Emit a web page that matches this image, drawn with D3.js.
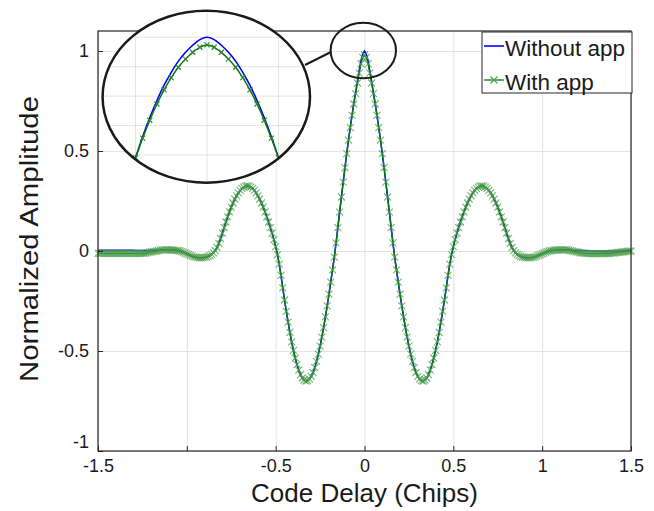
<!DOCTYPE html>
<html><head><meta charset="utf-8">
<script src="https://cdn.jsdelivr.net/npm/d3@7"></script>
<style>
body{margin:0;background:#fff}
svg{display:block}
text{font-family:"Liberation Sans",Arial,Helvetica,sans-serif}
</style>
</head><body>
<svg id="c" width="654" height="511"></svg>
<script>
// ---------- data ----------
const delay = [
-1.5,-1.49,-1.48,-1.47,-1.46,-1.45,-1.44,-1.43,-1.42,-1.41,
-1.4,-1.39,-1.38,-1.37,-1.36,-1.35,-1.34,-1.33,-1.32,-1.31,
-1.3,-1.29,-1.28,-1.27,-1.26,-1.25,-1.24,-1.23,-1.22,-1.21,
-1.2,-1.19,-1.18,-1.17,-1.16,-1.15,-1.14,-1.13,-1.12,-1.11,
-1.1,-1.09,-1.08,-1.07,-1.06,-1.05,-1.04,-1.03,-1.02,-1.01,
-1.0,-0.99,-0.98,-0.97,-0.96,-0.95,-0.94,-0.93,-0.92,-0.91,
-0.9,-0.89,-0.88,-0.87,-0.86,-0.85,-0.84,-0.83,-0.82,-0.81,
-0.8,-0.79,-0.78,-0.77,-0.76,-0.75,-0.74,-0.73,-0.72,-0.71,
-0.7,-0.69,-0.68,-0.67,-0.66,-0.65,-0.64,-0.63,-0.62,-0.61,
-0.6,-0.59,-0.58,-0.57,-0.56,-0.55,-0.54,-0.53,-0.52,-0.51,
-0.5,-0.49,-0.48,-0.47,-0.46,-0.45,-0.44,-0.43,-0.42,-0.41,
-0.4,-0.39,-0.38,-0.37,-0.36,-0.35,-0.34,-0.33,-0.32,-0.31,
-0.3,-0.29,-0.28,-0.27,-0.26,-0.25,-0.24,-0.23,-0.22,-0.21,
-0.2,-0.19,-0.18,-0.17,-0.16,-0.15,-0.14,-0.13,-0.12,-0.11,
-0.1,-0.09,-0.08,-0.07,-0.06,-0.05,-0.04,-0.03,-0.02,-0.01,
0,0.01,0.02,0.03,0.04,0.05,0.06,0.07,0.08,0.09,
0.1,0.11,0.12,0.13,0.14,0.15,0.16,0.17,0.18,0.19,
0.2,0.21,0.22,0.23,0.24,0.25,0.26,0.27,0.28,0.29,
0.3,0.31,0.32,0.33,0.34,0.35,0.36,0.37,0.38,0.39,
0.4,0.41,0.42,0.43,0.44,0.45,0.46,0.47,0.48,0.49,
0.5,0.51,0.52,0.53,0.54,0.55,0.56,0.57,0.58,0.59,
0.6,0.61,0.62,0.63,0.64,0.65,0.66,0.67,0.68,0.69,
0.7,0.71,0.72,0.73,0.74,0.75,0.76,0.77,0.78,0.79,
0.8,0.81,0.82,0.83,0.84,0.85,0.86,0.87,0.88,0.89,
0.9,0.91,0.92,0.93,0.94,0.95,0.96,0.97,0.98,0.99,
1.0,1.01,1.02,1.03,1.04,1.05,1.06,1.07,1.08,1.09,
1.1,1.11,1.12,1.13,1.14,1.15,1.16,1.17,1.18,1.19,
1.2,1.21,1.22,1.23,1.24,1.25,1.26,1.27,1.28,1.29,
1.3,1.31,1.32,1.33,1.34,1.35,1.36,1.37,1.38,1.39,
1.4,1.41,1.42,1.43,1.44,1.45,1.46,1.47,1.48,1.49,
1.5];

const withoutApp = [
0.003,0.003,0.003,0.003,0.003,0.003,0.003,0.003,0.003,0.003,
0.003,0.003,0.003,0.003,0.003,0.003,0.003,0.003,0.003,0.003,
0.003,0.002,0.002,0.002,0.002,0.002,0.002,0.002,0.002,0.003,
0.003,0.004,0.004,0.005,0.005,0.006,0.006,0.006,0.006,0.006,
0.006,0.005,0.005,0.004,0.003,0.002,0.000,-0.003,-0.006,-0.010,
-0.014,-0.018,-0.022,-0.026,-0.029,-0.031,-0.033,-0.034,-0.034,-0.033,
-0.032,-0.030,-0.027,-0.023,-0.017,-0.009,0.002,0.018,0.038,0.062,
0.089,0.117,0.145,0.171,0.196,0.219,0.240,0.259,0.276,0.291,
0.303,0.313,0.319,0.324,0.325,0.324,0.319,0.313,0.303,0.291,
0.276,0.259,0.240,0.219,0.196,0.171,0.145,0.117,0.089,0.057,
0.022,-0.018,-0.066,-0.122,-0.184,-0.245,-0.302,-0.356,-0.407,-0.454,
-0.497,-0.535,-0.568,-0.596,-0.618,-0.635,-0.645,-0.650,-0.648,-0.641,
-0.627,-0.608,-0.583,-0.552,-0.516,-0.476,-0.431,-0.383,-0.329,-0.274,
-0.216,-0.156,-0.094,-0.031,0.041,0.117,0.194,0.270,0.344,0.417,
0.487,0.555,0.619,0.681,0.739,0.793,0.848,0.900,0.950,0.985,
1.000,0.985,0.950,0.900,0.848,0.793,0.739,0.681,0.619,0.555,
0.487,0.417,0.344,0.270,0.194,0.117,0.041,-0.031,-0.094,-0.156,
-0.216,-0.274,-0.329,-0.383,-0.431,-0.476,-0.516,-0.552,-0.583,-0.608,
-0.627,-0.641,-0.648,-0.650,-0.645,-0.635,-0.618,-0.596,-0.568,-0.535,
-0.497,-0.454,-0.407,-0.356,-0.302,-0.245,-0.184,-0.122,-0.066,-0.018,
0.022,0.057,0.089,0.117,0.145,0.171,0.196,0.219,0.240,0.259,
0.276,0.291,0.303,0.313,0.319,0.324,0.325,0.324,0.319,0.313,
0.303,0.291,0.276,0.259,0.240,0.219,0.196,0.171,0.145,0.117,
0.089,0.062,0.038,0.018,0.002,-0.009,-0.017,-0.023,-0.027,-0.030,
-0.032,-0.033,-0.034,-0.034,-0.033,-0.031,-0.029,-0.026,-0.022,-0.018,
-0.014,-0.010,-0.006,-0.003,0.000,0.002,0.003,0.004,0.005,0.005,
0.006,0.006,0.006,0.006,0.006,0.006,0.005,0.005,0.004,0.004,
0.003,0.003,0.002,0.002,0.001,0.001,0.000,0.000,-0.001,-0.001,
-0.001,-0.002,-0.002,-0.002,-0.002,-0.002,-0.002,-0.002,-0.001,-0.001,
-0.001,0.000,0.000,0.000,0.001,0.001,0.001,0.002,0.002,0.002,
0.003];

const withApp = [
-0.012,-0.012,-0.012,-0.012,-0.012,-0.012,-0.012,-0.012,-0.012,-0.012,
-0.012,-0.012,-0.012,-0.012,-0.012,-0.012,-0.012,-0.012,-0.012,-0.012,
-0.012,-0.012,-0.012,-0.012,-0.012,-0.012,-0.012,-0.010,-0.008,-0.006,
-0.004,-0.003,-0.002,0.000,0.002,0.004,0.006,0.006,0.006,0.006,
0.006,0.005,0.005,0.004,0.003,0.002,0.000,-0.003,-0.006,-0.010,
-0.014,-0.018,-0.022,-0.026,-0.029,-0.031,-0.033,-0.034,-0.034,-0.033,
-0.032,-0.030,-0.027,-0.023,-0.017,-0.009,0.002,0.018,0.038,0.062,
0.089,0.117,0.145,0.171,0.196,0.219,0.240,0.259,0.276,0.291,
0.303,0.313,0.319,0.324,0.325,0.324,0.319,0.313,0.303,0.291,
0.276,0.259,0.240,0.219,0.196,0.171,0.145,0.117,0.089,0.057,
0.022,-0.018,-0.066,-0.122,-0.184,-0.245,-0.302,-0.356,-0.407,-0.454,
-0.497,-0.535,-0.568,-0.596,-0.618,-0.635,-0.645,-0.650,-0.648,-0.641,
-0.627,-0.608,-0.583,-0.552,-0.516,-0.476,-0.431,-0.383,-0.329,-0.274,
-0.216,-0.156,-0.094,-0.031,0.041,0.117,0.194,0.270,0.344,0.417,
0.487,0.554,0.617,0.678,0.735,0.787,0.840,0.889,0.936,0.968,
0.980,0.968,0.936,0.889,0.840,0.787,0.735,0.678,0.617,0.554,
0.487,0.417,0.344,0.270,0.194,0.117,0.041,-0.031,-0.094,-0.156,
-0.216,-0.274,-0.329,-0.383,-0.431,-0.476,-0.516,-0.552,-0.583,-0.608,
-0.627,-0.641,-0.648,-0.650,-0.645,-0.635,-0.618,-0.596,-0.568,-0.535,
-0.497,-0.454,-0.407,-0.356,-0.302,-0.245,-0.184,-0.122,-0.066,-0.018,
0.022,0.057,0.089,0.117,0.145,0.171,0.196,0.219,0.240,0.259,
0.276,0.291,0.303,0.313,0.319,0.324,0.325,0.324,0.319,0.313,
0.303,0.291,0.276,0.259,0.240,0.219,0.196,0.171,0.145,0.117,
0.089,0.062,0.038,0.018,0.002,-0.009,-0.017,-0.023,-0.027,-0.030,
-0.032,-0.033,-0.034,-0.034,-0.033,-0.031,-0.029,-0.026,-0.022,-0.018,
-0.014,-0.010,-0.006,-0.003,0.000,0.002,0.003,0.004,0.005,0.005,
0.006,0.006,0.006,0.006,0.006,0.004,0.002,0.000,-0.002,-0.004,
-0.006,-0.008,-0.009,-0.010,-0.011,-0.012,-0.013,-0.013,-0.013,-0.013,
-0.013,-0.013,-0.013,-0.013,-0.013,-0.013,-0.013,-0.013,-0.012,-0.011,
-0.010,-0.009,-0.008,-0.007,-0.006,-0.005,-0.004,-0.003,-0.002,-0.001,
0.000];

const seriesNames = ["Without app", "With app"];
const seriesColors = ["#0000ff", "#0a7d0a"];

const xTickValues = [-1.5, -1, -0.5, 0, 0.5, 1, 1.5];
const xTickLabels = ["-1.5", "", "-0.5", "0", "0.5", "1", "1.5"];
const yTickValues = [-1, -0.5, 0, 0.5, 1];
const yTickLabels = ["-1", "-0.5", "0", "0.5", "1"];
const xTitle = "Code Delay (Chips)";
const yTitle = "Normalized Amplitude";

// magnified view of the peak (inset)
const insetDelay = [-0.05,-0.045,-0.04,-0.035,-0.03,-0.025,-0.02,-0.015,-0.01,-0.005,0,
  0.005,0.01,0.015,0.02,0.025,0.03,0.035,0.04,0.045,0.05];
const insetWithout = [0.590,0.662,0.727,0.785,0.837,0.881,0.919,0.949,0.973,0.992,1.000,
  0.992,0.973,0.949,0.919,0.881,0.837,0.785,0.727,0.662,0.590];
const insetWith = [0.590,0.657,0.718,0.773,0.821,0.863,0.898,0.926,0.949,0.966,0.974,
  0.966,0.949,0.926,0.898,0.863,0.821,0.773,0.718,0.657,0.590];
const insetXGrid = [-0.05, 0, 0.05];
const insetYGrid = [0.6, 0.7, 0.8, 0.9, 1.0];

// ---------- drawing ----------
const svg = d3.select("#c");
const L = 98, R = 631, T = 31, B = 451;
const x = d3.scaleLinear().domain([-1.5, 1.5]).range([L, R]);
const y = d3.scaleLinear().domain([-1, 1.1]).range([B, T]);
const gridColor = "#e4e4e4";
const axisColor = "#262626";
const textColor = "#1a1a1a";
const fontFam = '"Liberation Sans", Arial, Helvetica, sans-serif';

// grid
svg.append("g").attr("transform", `translate(0,${B})`)
  .call(d3.axisBottom(x).tickValues(xTickValues).tickSize(-(B - T)).tickFormat(""))
  .call(g => g.select(".domain").remove())
  .selectAll("line").attr("stroke", gridColor);
svg.append("g").attr("transform", `translate(${L},0)`)
  .call(d3.axisLeft(y).tickValues(yTickValues).tickSize(-(R - L)).tickFormat(""))
  .call(g => g.select(".domain").remove())
  .selectAll("line").attr("stroke", gridColor);

// series
const pts = delay.map((d, i) => i);
const lineA = d3.line().x(i => x(delay[i])).y(i => y(withoutApp[i]));
const lineB = d3.line().x(i => x(delay[i])).y(i => y(withApp[i]));
svg.append("path").attr("d", lineA(pts)).attr("fill", "none")
  .attr("stroke", seriesColors[0]).attr("stroke-width", 1.6);
svg.append("path").attr("d", lineB(pts)).attr("fill", "none")
  .attr("stroke", seriesColors[1]).attr("stroke-width", 1.3);
const xm = "M-3.5,-3.5L3.5,3.5M-3.5,3.5L3.5,-3.5";
svg.append("g").selectAll("path").data(pts).join("path")
  .attr("d", xm)
  .attr("transform", i => `translate(${x(delay[i])},${y(withApp[i])})`)
  .attr("fill", "none").attr("stroke", "#4a9c4a").attr("stroke-opacity", 0.75)
  .attr("stroke-width", 1.1);

// frame
svg.append("rect").attr("x", L).attr("y", T).attr("width", R - L).attr("height", B - T)
  .attr("fill", "none").attr("stroke", axisColor).attr("stroke-width", 1.2);

// axes
const xAxis = svg.append("g").attr("transform", `translate(0,${B})`)
  .call(d3.axisBottom(x).tickValues(xTickValues).tickFormat((d, i) => xTickLabels[i])
    .tickSize(-5).tickPadding(8));
xAxis.select(".domain").remove();
xAxis.attr("font-size", 18).attr("font-family", fontFam).attr("color", axisColor);
const yAxis = svg.append("g").attr("transform", `translate(${L},0)`)
  .call(d3.axisLeft(y).tickValues(yTickValues).tickFormat((d, i) => yTickLabels[i])
    .tickSize(-5).tickPadding(9));
yAxis.select(".domain").remove();
yAxis.attr("font-size", 18).attr("font-family", fontFam).attr("color", axisColor);
// bottom y label sits a little higher, clear of the x labels
yAxis.selectAll(".tick").filter(d => d === -1).select("text").attr("y", -9);
svg.selectAll(".tick text").attr("fill", textColor);

// titles
svg.append("text").attr("x", (L + R) / 2).attr("y", 502).attr("text-anchor", "middle")
  .attr("font-size", 26).attr("fill", textColor).text(xTitle);
svg.append("text").attr("transform", "translate(38,239) rotate(-90)").attr("text-anchor", "middle")
  .attr("font-size", 26).attr("textLength", 286).attr("lengthAdjust", "spacingAndGlyphs")
  .attr("fill", textColor).text(yTitle);

// legend
const lg = svg.append("g");
lg.append("rect").attr("x", 482).attr("y", 32).attr("width", 150).attr("height", 61)
  .attr("fill", "#fff").attr("stroke", axisColor).attr("stroke-width", 1);
const legendY = [46, 80];
seriesNames.forEach((name, k) => {
  lg.append("line").attr("x1", 484).attr("x2", 504).attr("y1", legendY[k]).attr("y2", legendY[k])
    .attr("stroke", seriesColors[k]).attr("stroke-width", k ? 1.3 : 1.6);
  if (k === 1) lg.append("path").attr("d", xm).attr("transform", `translate(494,${legendY[k]})`)
    .attr("fill", "none").attr("stroke", "#4a9c4a").attr("stroke-width", 1.1);
  lg.append("text").attr("x", 505).attr("y", legendY[k] + 10).attr("font-size", 22.5)
    .attr("fill", textColor).text(name);
});

// small ellipse around the peak + connector
svg.append("ellipse").attr("cx", 363.3).attr("cy", 50.5).attr("rx", 32.7).attr("ry", 27.8)
  .attr("fill", "none").attr("stroke", textColor).attr("stroke-width", 2);
svg.append("line").attr("x1", 305).attr("y1", 65).attr("x2", 331).attr("y2", 52)
  .attr("stroke", textColor).attr("stroke-width", 2);

// inset
const icx = 206.3, icy = 96.7, irx = 103.7, iry = 86;
const defs = svg.append("defs");
defs.append("clipPath").attr("id", "insetClip").append("ellipse")
  .attr("cx", icx).attr("cy", icy).attr("rx", irx).attr("ry", iry);
const ig = svg.append("g");
ig.append("ellipse").attr("cx", icx).attr("cy", icy).attr("rx", irx).attr("ry", iry).attr("fill", "#fff");
const ix = d3.scaleLinear().domain([-0.05, 0.05]).range([135.5, 278.5]);
const iy = d3.scaleLinear().domain([0.6, 1.0]).range([154.9, 37.3]);
const ic = ig.append("g").attr("clip-path", "url(#insetClip)");
ic.selectAll("line.vx").data(insetXGrid).join("line").attr("class", "vx")
  .attr("x1", d => ix(d)).attr("x2", d => ix(d)).attr("y1", 0).attr("y2", 200)
  .attr("stroke", gridColor);
ic.selectAll("line.hy").data(insetYGrid).join("line").attr("class", "hy")
  .attr("x1", 90).attr("x2", 320).attr("y1", d => iy(d)).attr("y2", d => iy(d))
  .attr("stroke", gridColor);
const ipts = insetDelay.map((d, i) => i);
ic.append("path").attr("d", d3.line().curve(d3.curveCatmullRom)
    .x(i => ix(insetDelay[i])).y(i => iy(insetWithout[i]))(ipts))
  .attr("fill", "none").attr("stroke", seriesColors[0]).attr("stroke-width", 1.6);
ic.append("path").attr("d", d3.line().curve(d3.curveCatmullRom)
    .x(i => ix(insetDelay[i])).y(i => iy(insetWith[i]))(ipts))
  .attr("fill", "none").attr("stroke", seriesColors[1]).attr("stroke-width", 1.5);
ic.selectAll("path.im").data(ipts).join("path").attr("class", "im")
  .attr("d", "M-2.5,-2.5L2.5,2.5M-2.5,2.5L2.5,-2.5")
  .attr("transform", i => `translate(${ix(insetDelay[i])},${iy(insetWith[i])})`)
  .attr("fill", "none").attr("stroke", "#2f852f").attr("stroke-width", 1.2);
ig.append("ellipse").attr("cx", icx).attr("cy", icy).attr("rx", irx).attr("ry", iry)
  .attr("fill", "none").attr("stroke", textColor).attr("stroke-width", 2.5);
</script>
</body></html>
